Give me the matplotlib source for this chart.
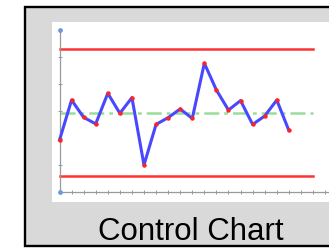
import numpy as np
import matplotlib.pyplot as plt
from matplotlib.patches import Rectangle

#------------------------------------------------Data
samples = np.arange(20)
values = [1.93, 3.41, 2.77, 2.53, 3.66, 2.92, 3.50, 1.01, 2.51, 2.76,
          3.08, 2.73, 4.77, 3.78, 3.04, 3.39, 2.51, 2.82, 3.41, 2.29]
ucl = 5.29
center = 2.93
lcl = 0.60
limit_span = [0, 21]
title = 'Control Chart'

#------------------------------------------------Figure
W, H = 329, 248
fig = plt.figure(figsize=(W/100, H/100), dpi=100)
fig.patch.set_facecolor('white')

def px(x0, y0, x1, y1):
    # pixel box (top-left origin) -> figure fraction [l, b, w, h]
    return [x0/W, 1 - y1/H, (x1 - x0)/W, (y1 - y0)/H]

# gray frame + white panel
l, b, w, h = px(24.5, 6.5, 345, 246)
fig.patches.append(Rectangle((l, b), w, h, transform=fig.transFigure, zorder=-3,
                             facecolor='#d9d9d9', edgecolor='black', linewidth=1.7))
l, b, w, h = px(52, 22, 345, 202)
fig.patches.append(Rectangle((l, b), w, h, transform=fig.transFigure, zorder=-2,
                             facecolor='white', edgecolor='none'))

x_right = (W - 59.5) / 12.07
ax = fig.add_axes(px(59.5, 30, W, 192.3))
ax.set_facecolor('none')
ax.set_xlim(0, x_right)
ax.set_ylim(0, 6)

ax.plot(limit_span, [ucl, ucl], color='#ff3333', lw=1.8, clip_on=False)
ax.plot(limit_span, [lcl, lcl], color='#ff3333', lw=1.8, clip_on=False)
ax.plot(limit_span, [center, center], color='#99dd99', lw=1.8,
        linestyle=(0, (6, 2, 1.5, 2)), clip_on=False)
ax.plot(samples, values, color='#4848ff', lw=2.2, clip_on=False, zorder=3)
ax.plot(samples, values, 'o', color='#ff2222', ms=2.2, clip_on=False, zorder=4)

# axes end markers
ax.plot([0, 0], [0, 6], 'o', color='#6699dd', ms=2.4, clip_on=False, zorder=5)

for s in ['top', 'right']:
    ax.spines[s].set_visible(False)
for s in ['left', 'bottom']:
    ax.spines[s].set_color('#999999')
    ax.spines[s].set_linewidth(0.9)
ax.set_xticks(np.arange(0, 23))
ax.set_yticks(np.arange(0, 7))
ax.tick_params(direction='inout', length=3, width=0.6, color='#888888',
               labelleft=False, labelbottom=False)

fig.text(190.5/W, 1 - 240.5/H, title, ha='center', va='baseline',
         fontsize=22.5, family=['Liberation Sans', 'DejaVu Sans'], color='black')

plt.savefig('out.png', dpi=100)
